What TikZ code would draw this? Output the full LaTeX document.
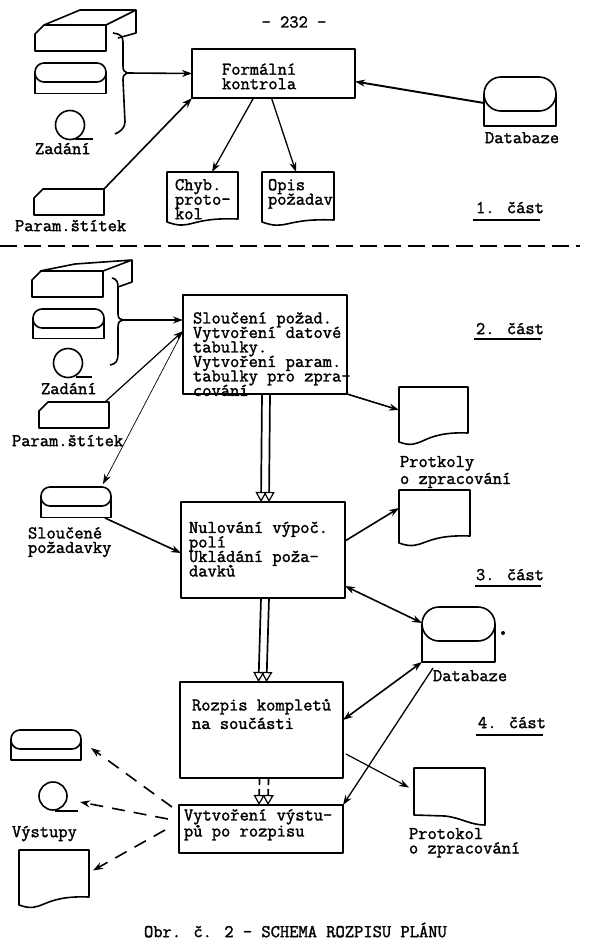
\documentclass[tikz,border=0pt]{standalone}
\usepackage{fontspec}
\newfontfamily\typew{Latin Modern Mono}[FakeBold=1.6]
\newcommand{\labfont}{\typew\fontsize{18}{14.5}\selectfont\setlength{\lineskiplimit}{-30pt}\relax}
\usetikzlibrary{arrows.meta,calc}
\tikzset{
  ln/.style={line width=1.6pt,black,line join=round},
  conn/.style={ln,-{Stealth[length=10pt,width=7pt]}},
  connb/.style={ln,{Stealth[length=10pt,width=7pt]}-{Stealth[length=10pt,width=7pt]}},
  connd/.style={ln,dash pattern=on 13pt off 9pt,-{Stealth[length=10pt,width=7pt]}},
  dbl/.style={line width=1.7pt,black,-{Triangle[open,length=10pt,width=11pt,line width=1.2pt]}},
  proc/.style={draw,ln,rectangle,inner sep=0pt,outer sep=0pt},
  tapetop/.style={draw,ln,rectangle,rounded corners=9pt,inner sep=0pt,outer sep=0pt,minimum width=71pt,minimum height=19pt},
  dbtop/.style={draw,ln,rectangle,rounded corners=17pt,inner sep=0pt,outer sep=0pt,minimum width=72pt,minimum height=34pt},
  roll/.style={draw,ln,circle,inner sep=0pt,outer sep=0pt,minimum size=29pt},
  area/.style={rectangle,inner sep=0pt,outer sep=0pt},
  lab/.style={font=\labfont,inner sep=0pt,outer sep=0pt,anchor=mid west,align=left},
  labn/.style={lab,anchor=north west},
}
% document symbol: name, left, top, right, bottom-left, bottom-right
\newcommand{\DocSym}[6]{%
  \node[area,minimum width={#4-#2},minimum height={#6-#3}] (#1) at ({(#2+#4)/2},{(#3+#6)/2}) {};
  \draw[ln] (#2,#3) -| (#4,#6) .. controls ({#4-0.7*(#4-#2)},{#6-2}) and ({#2+0.35*(#4-#2)},{#5+9}) .. (#2,#5) -- cycle;}
\newcommand{\TapeLow}[2]{\draw[ln] (#1.west) -- ++(0,#2) -| (#1.east);}
\newcommand{\CardSym}[5]{% name,left,top,right,bottom
  \node[area,minimum width={#4-#2},minimum height={#5-#3}] (#1) at ({(#2+#4)/2},{(#3+#5)/2}) {};
  \draw[ln] (#2,{#3+9}) -- ({#2+9},#3) -- (#4,#3) -- (#4,#5) -- (#2,#5) -- cycle;}
\begin{document}
\begin{tikzpicture}[x=1pt,y=-1pt]
\useasboundingbox (0,0) rectangle (589,950);
\fill[white] (0,0) rectangle (589,950);

\node[lab,anchor=center] (page) at (294,22) {- 232 -};

% ---------- part 1
\CardSym{boxa}{35}{25}{106}{51}
\draw[ln] (44,25) -- (80,10) -- (136,10) -- (106,25) (136,10) -- (136,33) -- (118,38);
\node[tapetop] (tapea) at (70.5,72.5) {};
\TapeLow{tapea}{21}
\node[roll] (rolla) at (70,125) {};
\draw[ln] (75,139) -- (93,139);
\node[lab] (zada) at (35,152) {Zadání};
\coordinate (bracea) at (127,73);
\draw[ln] (113,33) .. controls (120,34) and (123,36) .. (123,42) -- (123,66) .. controls (123,70) and (124,72) .. (bracea)
  .. controls (124,74) and (123,76) .. (123,80) -- (125,122) .. controls (125,128) and (120,132) .. (115,134);
\node[proc,minimum width=163pt,minimum height=49pt] (formal) at (273.5,73.5) {};
\node[labn] (formaltxt) at (222,63.5) {Formální\\kontrola};
\CardSym{parama}{34}{189}{104}{215}
\node[lab] (paramatxt) at (15,229) {Param.štítek};
\draw[conn] (bracea) -- (formal.west);
\draw[conn] (parama.north east) -- (formal.south west);
\DocSym{chyb}{167}{172}{238}{222}{219}
\node[labn] (chybtxt) at (175,179) {Chyb.\\proto-\\kol};
\DocSym{opis}{262}{172}{334}{222}{220}
\node[labn] (opistxt) at (268,179) {Opis\\požadav};
\draw[conn,line width=1.3pt] ([xshift=-20pt]formal.south) -- ([xshift=9.5pt]chyb.north);
\draw[conn,line width=1.3pt] ([xshift=-2pt]formal.south) -- ([xshift=-2pt]opis.north);
\node[dbtop] (dba) at (520,94) {};
\TapeLow{dba}{32}
\node[lab] (dbatxt) at (485,141) {Databaze};
\draw[conn,line width=1.9pt] ([yshift=-9pt]dba.west) -- ([yshift=-8pt]formal.east);
\node[lab] (part1) at (476,211) {1. část};
\draw[ln] (473,220) -- (540,220);

\draw[line width=1.6pt,dash pattern=on 17pt off 7pt] (0,246) -- (580,246);

% ---------- part 2
\CardSym{boxb}{32}{271}{103}{297}
\draw[ln] (40,271) -- (75,264) -- (132,260) -- (103,271) (132,260) -- (132,282) -- (118,287);
\node[tapetop] (tapeb) at (68.5,318.5) {};
\TapeLow{tapeb}{20}
\node[roll] (rollb) at (68,363) {};
\draw[ln] (76,377) -- (92,377);
\node[lab] (zadb) at (41,392) {Zadání};
\coordinate (braceb) at (123,320);
\draw[ln] (112,278) .. controls (117,279) and (118,282) .. (118,288) -- (118,314) .. controls (118,318) and (120,320) .. (braceb)
  .. controls (120,320) and (118,322) .. (118,327) -- (118,354) .. controls (118,361) and (116,364) .. (110,365);
\node[proc,minimum width=164pt,minimum height=99pt] (sluc) at (265,344.5) {};
\node[labn] (sluctxt) at (193,312) {Sloučení požad.\\Vytvoření datové\\tabulky.\\Vytvoření param.\\tabulky pro zpra-\\cování};
\CardSym{paramb}{39}{402}{109}{428}
\node[lab] (parambtxt) at (12,444) {Param.štítek};
\coordinate (slucin) at (183,331);
\draw[conn] (braceb) -- (sluc.west |- braceb);
\draw[conn,line width=1.2pt] ([xshift=-4pt]paramb.north east) -- (slucin);
\node[tapetop,minimum width=70pt] (tapec) at (76,496.5) {};
\TapeLow{tapec}{21}
\node[labn] (tapectxt) at (28,527) {Sloučené\\požadavky};
\draw[conn,line width=.7pt] (slucin) -- ([xshift=-8pt,yshift=3pt]tapec.north east);
\node[proc,minimum width=164pt,minimum height=96pt] (nul) at (263,550) {};
\node[labn] (nultxt) at (189,521.5) {Nulování výpoč.\\polí\\Ukládání poža-\\davků};
\draw[dbl] ([xshift=-3pt]sluc.south) -- ([xshift=-2pt]nul.north);
\draw[dbl] ([xshift=5pt]sluc.south) -- ([xshift=6pt]nul.north);
\draw[conn] ([xshift=-6pt,yshift=-12pt]tapec.south east) -- ([yshift=-3pt]nul.west);
\DocSym{prota}{399}{387}{468}{442}{433}
\node[labn] (protatxt) at (400,456) {Protkoly\\[2.5pt]o zpracování};
\DocSym{protb}{399}{490}{470}{543}{536}
\draw[conn] (sluc.south east) -- (prota.west);
\draw[conn] ([yshift=9pt]nul.east) -- ([yshift=5pt]protb.west);
\node[lab] (part2) at (476,332) {2. část};
\draw[line width=2.2pt] (474,339) -- (541,339);
\node[lab] (part3) at (476,578) {3. část};
\draw[line width=2.2pt] (475,586) -- (541,586);

% ---------- parts 3-4
\node[dbtop,minimum width=73pt] (dbb) at (458.5,624) {};
\TapeLow{dbb}{38}
\node[lab] (dbbtxt) at (433,679) {Databaze};
\fill (503,633) circle (2pt);
\node[proc,minimum width=163pt,minimum height=96pt] (roz) at (261.5,730) {};
\node[labn] (roztxt) at (192,699) {Rozpis kompletů\\[4pt]na součásti};
\draw[dbl] ([xshift=-2pt]nul.south) -- ([xshift=-3pt]roz.north);
\draw[dbl] ([xshift=6pt]nul.south) -- ([xshift=5pt]roz.north);
\draw[connb] ([yshift=12pt]nul.south east) -- ([yshift=1pt]dbb.west);
\draw[connb] ([yshift=10pt]roz.east) -- (dbb.west |- 0,662);
\node[area,minimum width=71pt,minimum height=57pt] (protc) at (449.5,796.5) {};
\draw[ln] (414,768) -| (485,825) .. controls (470,825) and (462,818) .. (445,816) -- (414,815) -- cycle;
\node[labn] (protctxt) at (409,828) {Protokol\\o zpracování};
\draw[conn,line width=1.2pt] ([xshift=3pt,yshift=-24pt]roz.east) -- ([xshift=-5pt,yshift=9pt]protc.west);
\node[lab] (part4) at (478,726) {4. část};
\draw[line width=2.2pt] (476,735) -- (543,735);
\node[proc,minimum width=164pt,minimum height=48pt,line width=1.2pt] (vyt) at (261,829) {};
\node[labn] (vyttxt) at (184,809) {Vytvoření výstu-\\[1.5pt]pů po rozpisu};
\draw[dbl,dash pattern=on 7pt off 4pt] ([xshift=-2pt]roz.south) -- ([xshift=-2pt]vyt.north);
\draw[dbl,dash pattern=on 7pt off 4pt] ([xshift=7pt]roz.south) -- ([xshift=7pt]vyt.north);
\draw[conn,line width=1.3pt] ([xshift=11pt,yshift=-27pt]dbb.south west) -- (vyt.north east);

\node[tapetop,minimum width=70pt] (tapeo) at (46,739.5) {};
\TapeLow{tapeo}{20.5}
\node[roll,minimum size=28pt] (rollo) at (53,796) {};
\draw[ln] (55,811) -- (78,811);
\node[lab] (vystxt) at (12,835) {Výstupy};
\DocSym{doco}{19}{850}{89}{905}{897}
\draw[connd] ([xshift=-7pt,yshift=-2pt]vyt.north west) -- ([xshift=10pt,yshift=1pt]tapeo.south east);
\draw[connd] ([xshift=-11pt,yshift=-14pt]vyt.north west) -- ([xshift=13pt,yshift=-6pt]rollo.east);
\draw[connd] ([xshift=-14pt,yshift=-25pt]vyt.north west) -- ([xshift=4pt,yshift=3pt]doco.east);

\node[lab] (caption) at (144,935) {Obr. č. 2 - SCHEMA ROZPISU PLÁNU};
\end{tikzpicture}
\end{document}
